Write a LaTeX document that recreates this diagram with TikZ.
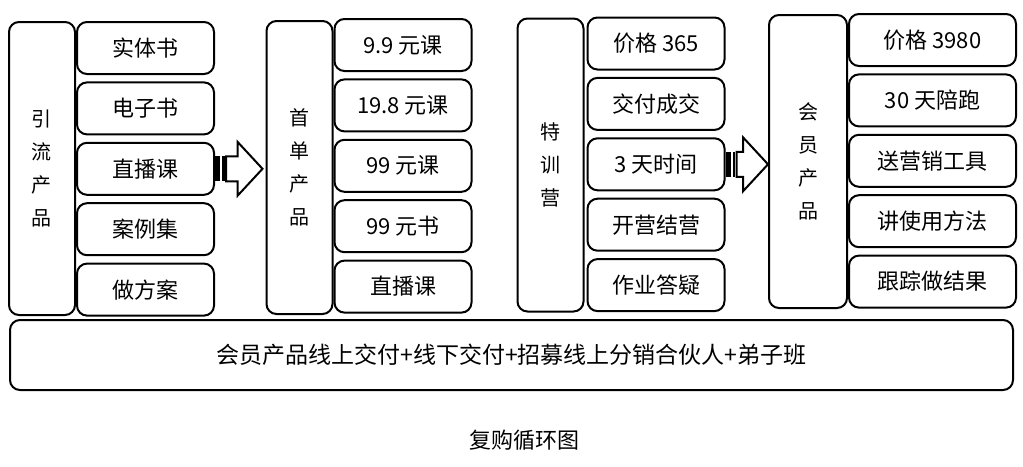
\documentclass[tikz,border=0pt]{standalone}
\usepackage{fontspec}
\setmainfont{Noto Sans CJK SC}
\usetikzlibrary{calc,positioning}

\tikzset{
  box/.style={draw, line width=1pt, rounded corners=5pt, inner sep=0pt, align=center},
  tall/.style={box, minimum width=33pt, minimum height=146.5pt, font=\fontsize{10}{16.5}\selectfont},
  item/.style={box, minimum width=68.5pt, minimum height=26pt, font=\fontsize{11}{13}\selectfont},
  wideitem/.style={item, minimum width=83.5pt},
}

% striped block arrow from the east side of #2 to the west side of #3
\newcommand{\stripedarrow}[3][0]{%
  \coordinate (s) at (#2.east);
  \coordinate (t) at ($(#3.west |- #2.east)+(#1,0)$);
  \fill ($(s)+(0,-12.5)$) rectangle ($(s)+(5,12.5)$);
  \fill ($(s)+(7,-12.5)$) rectangle ($(s)+(9.5,12.5)$);
  \draw[line width=1pt, fill=white] ($(s)+(11,-12.5)$) -- ($(t)+(-25,-12.5)$) -- ($(t)+(-25,-27)$)
    -- (t) -- ($(t)+(-25,27)$) -- ($(t)+(-25,12.5)$) -- ($(s)+(11,12.5)$) -- cycle;
}

\begin{document}
\begin{tikzpicture}[x=0.5pt, y=-0.5pt, node distance=3.2pt]
    \useasboundingbox (0,0) rectangle (1023,466);

    % Define nodes
    \node[tall] (lead) at (42,168.5) {引\\流\\产\\品};
    \node[item, anchor=north west] (lead1) at (lead.north east) {实体书};
    \node[item, below=of lead1] (lead2) {电子书};
    \node[item, below=of lead2] (lead3) {直播课};
    \node[item, below=of lead3] (lead4) {案例集};
    \node[item, below=of lead4] (lead5) {做方案};

    \node[tall] (first) at (299.5,167.5) {首\\单\\产\\品};
    \node[item, anchor=north west, yshift=1pt] (first1) at (first.north east) {9.9 元课};
    \node[item, below=of first1] (first2) {19.8 元课};
    \node[item, below=of first2] (first3) {99 元课};
    \node[item, below=of first3] (first4) {99 元书};
    \node[item, below=of first4] (first5) {直播课};

    \node[tall] (camp) at (550.5,165) {特\\训\\营};
    \node[item, anchor=north west, xshift=1pt, yshift=0.5pt] (camp1) at (camp.north east) {价格 365};
    \node[item, below=of camp1] (camp2) {交付成交};
    \node[item, below=of camp2] (camp3) {3 天时间};
    \node[item, below=of camp3] (camp4) {开营结营};
    \node[item, below=of camp4] (camp5) {作业答疑};

    \node[tall, minimum width=39pt] (member) at (808,161.5) {会\\员\\产\\品};
    \node[wideitem, anchor=north west, yshift=0.5pt] (member1) at (member.north east) {价格 3980};
    \node[wideitem, below=of member1] (member2) {30 天陪跑};
    \node[wideitem, below=of member2] (member3) {送营销工具};
    \node[wideitem, below=of member3] (member4) {讲使用方法};
    \node[wideitem, below=of member4] (member5) {跟踪做结果};

    \node[box, minimum width=501.5pt, minimum height=35pt, font=\fontsize{11.5}{13}\selectfont] (loop) at (511.5,355)
        {会员产品线上交付+线下交付+招募线上分销合伙人+弟子班};
    \node[font=\fontsize{11}{13}\selectfont] (title) at (524,440) {复购循环图};

    \stripedarrow[-3]{lead3}{first}
    \stripedarrow{camp3}{member}

\end{tikzpicture}
\end{document}
